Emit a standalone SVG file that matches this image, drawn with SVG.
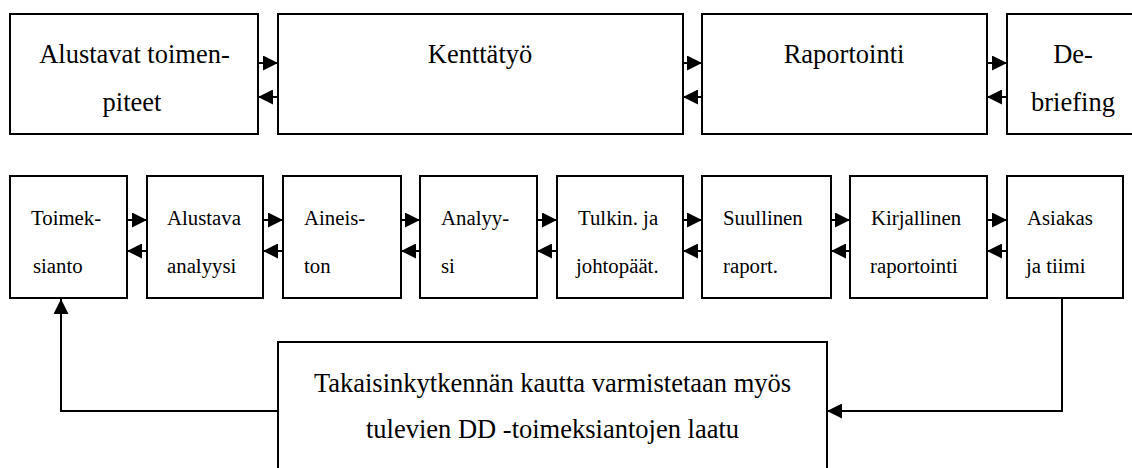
<svg xmlns="http://www.w3.org/2000/svg" width="1132" height="468" viewBox="0 0 1132 468">
<defs>
<style>
.box{fill:#fff;stroke:#000;stroke-width:2}
.big{font-family:'Liberation Serif','Times New Roman',Tinos,'DejaVu Serif',serif;font-size:26.5px;fill:#000}
.sm{font-family:'Liberation Serif','Times New Roman',Tinos,'DejaVu Serif',serif;font-size:20.8px;fill:#000}
.mid{text-anchor:middle}
.con{fill:none;stroke:#000;stroke-width:2}
</style>
<marker id="ah" markerUnits="userSpaceOnUse" viewBox="0 0 15 15" refX="15" refY="7.5" markerWidth="15" markerHeight="15" orient="auto">
<path d="M0,0 L15,7.5 L0,15 z" fill="#000"/>
</marker>
</defs>
<rect width="1132" height="468" fill="#fff"/>

<g id="connectors">
<line class="con" x1="258" y1="63" x2="278" y2="63" marker-end="url(#ah)"/>
<line class="con" x1="278" y1="97" x2="258" y2="97" marker-end="url(#ah)"/>
<line class="con" x1="683" y1="63" x2="702" y2="63" marker-end="url(#ah)"/>
<line class="con" x1="702" y1="97" x2="683" y2="97" marker-end="url(#ah)"/>
<line class="con" x1="987" y1="63" x2="1007" y2="63" marker-end="url(#ah)"/>
<line class="con" x1="1007" y1="97" x2="987" y2="97" marker-end="url(#ah)"/>

<line class="con" x1="127" y1="220" x2="147" y2="220" marker-end="url(#ah)"/>
<line class="con" x1="147" y1="251" x2="127" y2="251" marker-end="url(#ah)"/>
<line class="con" x1="263" y1="220" x2="283" y2="220" marker-end="url(#ah)"/>
<line class="con" x1="283" y1="251" x2="263" y2="251" marker-end="url(#ah)"/>
<line class="con" x1="401" y1="220" x2="420" y2="220" marker-end="url(#ah)"/>
<line class="con" x1="420" y1="251" x2="401" y2="251" marker-end="url(#ah)"/>
<line class="con" x1="537" y1="220" x2="557" y2="220" marker-end="url(#ah)"/>
<line class="con" x1="557" y1="251" x2="537" y2="251" marker-end="url(#ah)"/>
<line class="con" x1="683" y1="220" x2="702" y2="220" marker-end="url(#ah)"/>
<line class="con" x1="702" y1="251" x2="683" y2="251" marker-end="url(#ah)"/>
<line class="con" x1="831" y1="220" x2="850" y2="220" marker-end="url(#ah)"/>
<line class="con" x1="850" y1="251" x2="831" y2="251" marker-end="url(#ah)"/>
<line class="con" x1="987" y1="220" x2="1007" y2="220" marker-end="url(#ah)"/>
<line class="con" x1="1007" y1="251" x2="987" y2="251" marker-end="url(#ah)"/>

<polyline class="con" points="278,411 61,411 61,299" marker-end="url(#ah)"/>
<polyline class="con" points="1062,299 1062,411 827,411" marker-end="url(#ah)"/>
</g>

<g id="n-alustavat">
<rect class="box" x="10" y="14" width="248" height="120"/>
<text class="big mid" x="134.5" y="63">Alustavat toimen-</text>
<text class="big mid" x="132" y="111">piteet</text>
</g>
<g id="n-kenttatyo">
<rect class="box" x="278" y="14" width="405" height="120"/>
<text class="big mid" x="480" y="63">Kenttätyö</text>
</g>
<g id="n-raportointi">
<rect class="box" x="702" y="14" width="285" height="120"/>
<text class="big mid" x="844" y="63">Raportointi</text>
</g>
<g id="n-debriefing">
<rect class="box" x="1007" y="14" width="140" height="120"/>
<text class="big mid" x="1073" y="63">De-</text>
<text class="big mid" x="1073" y="111">briefing</text>
</g>

<g id="n-toimeksianto">
<rect class="box" x="10" y="176" width="117" height="122"/>
<text class="sm" x="31" y="225">Toimek-</text>
<text class="sm" x="33" y="273">sianto</text>
</g>
<g id="n-alustava">
<rect class="box" x="147" y="176" width="116" height="122"/>
<text class="sm" x="167" y="225">Alustava</text>
<text class="sm" x="167" y="273">analyysi</text>
</g>
<g id="n-aineiston">
<rect class="box" x="283" y="176" width="118" height="122"/>
<text class="sm" x="304" y="225">Aineis-</text>
<text class="sm" x="304" y="273">ton</text>
</g>
<g id="n-analyysi">
<rect class="box" x="420" y="176" width="117" height="122"/>
<text class="sm" x="441" y="225">Analyy-</text>
<text class="sm" x="441" y="273">si</text>
</g>
<g id="n-tulkin">
<rect class="box" x="557" y="176" width="126" height="122"/>
<text class="sm" x="578" y="225">Tulkin. ja</text>
<text class="sm" x="576" y="273">johtopäät.</text>
</g>
<g id="n-suullinen">
<rect class="box" x="702" y="176" width="129" height="122"/>
<text class="sm" x="723" y="225">Suullinen</text>
<text class="sm" x="723" y="273">raport.</text>
</g>
<g id="n-kirjallinen">
<rect class="box" x="850" y="176" width="137" height="122"/>
<text class="sm" x="871" y="225">Kirjallinen</text>
<text class="sm" x="870" y="273">raportointi</text>
</g>
<g id="n-asiakas">
<rect class="box" x="1007" y="176" width="116" height="122"/>
<text class="sm" x="1027" y="225">Asiakas</text>
<text class="sm" x="1026" y="273">ja tiimi</text>
</g>

<g id="n-takaisinkytkenta">
<rect class="box" x="278" y="342" width="549" height="140"/>
<text class="big mid" x="552.5" y="392">Takaisinkytkennän kautta varmistetaan myös</text>
<text class="big mid" x="552.5" y="438">tulevien DD -toimeksiantojen laatu</text>
</g>
</svg>
